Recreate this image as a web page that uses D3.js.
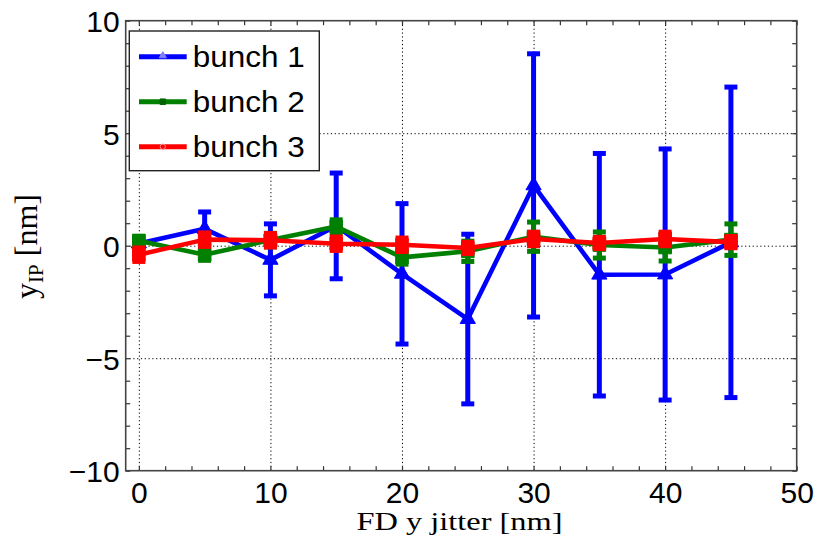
<!DOCTYPE html>
<html>
<head>
<meta charset="utf-8">
<script src="https://cdn.jsdelivr.net/npm/d3@7"></script>
<style>
  body { margin: 0; background: #fff; }
  svg { display: block; }
</style>
</head>
<body>
<div id="chart"></div>
<script>
// FD y jitter [nm]
var jitter = [0, 5, 10, 15, 20, 25, 30, 35, 40, 45];

// y_IP mean and error, per bunch
var bunch1 = [0.1, 0.75, -0.63, 0.88, -1.25, -3.26, 2.68, -1.29, -1.28, 0.15];
var bunch1Err = [0.2, 0.75, 1.6, 2.35, 3.12, 3.77, 5.85, 5.39, 5.58, 6.9];
var bunch2 = [0.22, -0.4, 0.25, 0.85, -0.52, -0.25, 0.4, 0.03, -0.08, 0.27];
var bunch2Err = [0.2, 0.25, 0.3, 0.3, 0.3, 0.45, 0.65, 0.58, 0.6, 0.7];
var bunch3 = [-0.4, 0.27, 0.24, 0.09, 0.04, -0.1, 0.3, 0.12, 0.3, 0.16];
var bunch3Err = [0.3, 0.3, 0.3, 0.3, 0.3, 0.25, 0.3, 0.25, 0.3, 0.25];

var seriesNames = ["bunch 1", "bunch 2", "bunch 3"];
var xTicks = [0, 10, 20, 30, 40, 50];
var yTicks = [-10, -5, 0, 5, 10];

var colors = ["#0000ff", "#008000", "#ff0000"];
var symbols = [d3.symbolTriangle, d3.symbolSquare, d3.symbolSquare];

var W = 824, H = 539;
var margin = {top: 20.7, right: 27.3, bottom: 68.3, left: 125.7},
    width = W - margin.left - margin.right,
    height = H - margin.top - margin.bottom;

var x = d3.scaleLinear().domain([-1, 50]).range([0, width]);
var y = d3.scaleLinear().domain([-10, 10]).range([height, 0]);

var svg = d3.select("#chart").append("svg")
    .attr("width", W)
    .attr("height", H)
  .append("g")
    .attr("transform", "translate(" + margin.left + "," + margin.top + ")");

// grid
var grid = svg.append("g").attr("class", "grid");
grid.append("g")
    .attr("transform", "translate(0," + height + ")")
    .call(d3.axisBottom(x).tickValues([0, 10, 20, 30, 40]).tickSize(-height).tickFormat(""));
grid.append("g")
    .call(d3.axisLeft(y).tickValues([-5, 0, 5]).tickSize(-width).tickFormat(""));
grid.selectAll(".domain").remove();
grid.selectAll("line")
    .attr("stroke", "#000")
    .attr("stroke-width", 1)
    .attr("stroke-dasharray", "1.2,2.6");

// minor + major inward ticks on all four sides
var xMinor = d3.range(0, 51, 2);
var yMinor = d3.range(-10, 11, 1);
var ticksG = svg.append("g").attr("class", "ticks");
ticksG.append("g").attr("transform", "translate(0," + height + ")")
    .call(d3.axisBottom(x).tickValues(xMinor).tickSize(-4.5).tickFormat(""));
ticksG.append("g")
    .call(d3.axisTop(x).tickValues(xMinor).tickSize(-4.5).tickFormat(""));
ticksG.append("g")
    .call(d3.axisLeft(y).tickValues(yMinor).tickSize(-4.5).tickFormat(""));
ticksG.append("g").attr("transform", "translate(" + width + ",0)")
    .call(d3.axisRight(y).tickValues(yMinor).tickSize(-4.5).tickFormat(""));
ticksG.selectAll(".domain").remove();
ticksG.selectAll("line").attr("stroke", "#333").attr("stroke-width", 1.2);

// tick labels
var xAxis = svg.append("g")
    .attr("transform", "translate(0," + height + ")")
    .call(d3.axisBottom(x).tickValues(xTicks).tickSize(0).tickPadding(11));
var yAxis = svg.append("g")
    .call(d3.axisLeft(y).tickValues(yTicks).tickSize(0).tickPadding(6));
[xAxis, yAxis].forEach(function(a) {
    a.select(".domain").remove();
    a.selectAll("text")
        .attr("font-family", "Liberation Sans, Arial, sans-serif")
        .attr("font-size", 30)
        .attr("fill", "#000");
});
yAxis.selectAll("text").attr("dy", "0.36em");

// box
svg.append("rect")
    .attr("width", width)
    .attr("height", height)
    .attr("fill", "none")
    .attr("stroke", "#444")
    .attr("stroke-width", 1.6);

// series
var allMeans = [bunch1, bunch2, bunch3];
var allErrs = [bunch1Err, bunch2Err, bunch3Err];

var line = d3.line()
    .x(function(d) { return x(d.x); })
    .y(function(d) { return y(d.y); });

allMeans.forEach(function(means, s) {
    var data = jitter.map(function(j, i) {
        return {x: j, y: means[i], e: allErrs[s][i]};
    });
    var g = svg.append("g").attr("class", "series");
    var col = colors[s];

    // error bars
    var eb = g.selectAll(".eb").data(data).enter().append("g");
    eb.append("line")
        .attr("x1", function(d) { return x(d.x); })
        .attr("x2", function(d) { return x(d.x); })
        .attr("y1", function(d) { return y(d.y + d.e); })
        .attr("y2", function(d) { return y(d.y - d.e); })
        .attr("stroke", col)
        .attr("stroke-width", 5);
    [1, -1].forEach(function(sign) {
        eb.append("line")
            .attr("x1", function(d) { return x(d.x) - 6.5; })
            .attr("x2", function(d) { return x(d.x) + 6.5; })
            .attr("y1", function(d) { return y(d.y + sign * d.e); })
            .attr("y2", function(d) { return y(d.y + sign * d.e); })
            .attr("stroke", col)
            .attr("stroke-width", 5);
    });

    g.append("path")
        .datum(data)
        .attr("d", line)
        .attr("fill", "none")
        .attr("stroke", col)
        .attr("stroke-width", 4.6)
        .attr("stroke-linejoin", "round");

    g.selectAll(".marker").data(data).enter().append("path")
        .attr("transform", function(d) { return "translate(" + x(d.x) + "," + y(d.y) + ")"; })
        .attr("d", d3.symbol().type(symbols[s]).size(s === 0 ? 100 : 160))
        .attr("fill", col)
        .attr("stroke", col)
        .attr("stroke-width", 1);
});

// legend
var legend = svg.append("g")
    .attr("transform", "translate(" + (129.3 - margin.left) + "," + (31 - margin.top) + ")");
legend.append("rect")
    .attr("width", 190)
    .attr("height", 139.7)
    .attr("fill", "#fff")
    .attr("stroke", "#222")
    .attr("stroke-width", 1.4);
var lightMarker = ["#8080ff", "#006400", "#ff9090"];
var legSymbols = [d3.symbolTriangle, d3.symbolSquare, d3.symbolCircle];
seriesNames.forEach(function(name, i) {
    var cy = 25.7 + i * 45;
    legend.append("line")
        .attr("x1", 9.7).attr("x2", 57.4)
        .attr("y1", cy).attr("y2", cy)
        .attr("stroke", colors[i])
        .attr("stroke-width", 5);
    legend.append("path")
        .attr("transform", "translate(33.5," + (cy - (i === 0 ? 1 : 0)) + ")")
        .attr("d", d3.symbol().type(legSymbols[i]).size(i === 1 ? 30 : 22))
        .attr("fill", i === 2 ? "none" : lightMarker[i])
        .attr("stroke", lightMarker[i])
        .attr("stroke-width", 1);
    legend.append("text")
        .attr("x", 63.4)
        .attr("y", cy + 10)
        .attr("font-family", "Liberation Sans, Arial, sans-serif")
        .attr("font-size", 30)
        .attr("textLength", 112)
        .attr("lengthAdjust", "spacingAndGlyphs")
        .text(name);
});

// axis labels
d3.select("svg").append("text")
    .attr("x", 356.5)
    .attr("y", 530)
    .attr("font-family", "Liberation Serif, Times New Roman, serif")
    .attr("font-size", 26)
    .attr("textLength", 206)
    .attr("lengthAdjust", "spacingAndGlyphs")
    .text("FD y jitter [nm]");

var yl = d3.select("svg").append("text")
    .attr("transform", "translate(37,246.5) rotate(-90)")
    .attr("text-anchor", "middle")
    .attr("font-family", "Liberation Serif, Times New Roman, serif")
    .attr("font-size", 32);
yl.append("tspan").text("y");
yl.append("tspan").attr("font-size", 21).attr("dy", 6).text("IP");
yl.append("tspan").attr("dy", -6).text(" [nm]");
</script>
</body>
</html>
